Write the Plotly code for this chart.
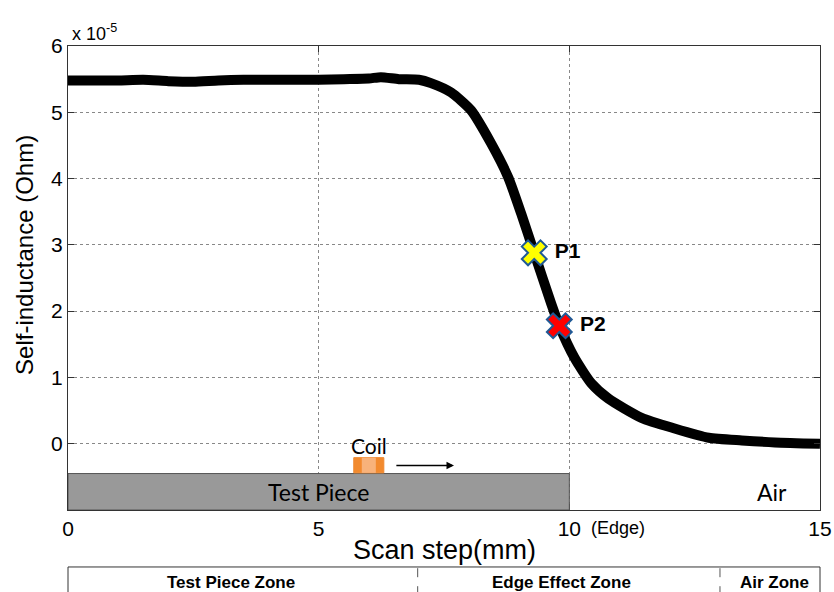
import plotly.graph_objects as go

# Scan step (mm) and self-inductance (x 1e-5 Ohm)
scan_x = [0, 0.5, 1, 1.5, 2, 2.5, 3, 3.5, 4, 4.5, 5, 5.5, 6, 6.24, 6.6, 7, 7.24, 7.64,
          8.04, 8.44, 8.78, 9.04, 9.3, 9.64, 9.8, 10.1, 10.44, 10.78, 11.44, 12.1,
          12.78, 13.44, 14.1, 15]
inductance = [5.48, 5.48, 5.48, 5.49, 5.47, 5.46, 5.48, 5.49, 5.49, 5.49, 5.49, 5.5,
              5.51, 5.53, 5.5, 5.49, 5.44, 5.30, 5.03, 4.53, 4.02, 3.47, 2.88, 2.11,
              1.78, 1.30, 0.91, 0.68, 0.39, 0.23, 0.09, 0.05, 0.02, 0.0]

p_names = ["P1", "P2"]
p_x = [9.3, 9.8]
p_y = [2.88, 1.78]
p_colors = ["#ffff00", "#ff0000"]

x_ticks = [0, 5, 10, 15]
x_ticktext = ["0", "5", "10", "15"]
y_ticks = [0, 1, 2, 3, 4, 5, 6]

zone_names = ["Test Piece Zone", "Edge Effect Zone", "Air Zone"]
zone_centers = [0.217, 0.656, 0.940]
zone_dividers = [0.465, 0.867]

fig = go.Figure()
fig.add_trace(go.Scatter(x=scan_x, y=inductance, mode="lines",
                         line=dict(color="black", width=10, shape="spline", smoothing=0.6),
                         hoverinfo="skip", showlegend=False))
for name, px, py, c in zip(p_names, p_x, p_y, p_colors):
    fig.add_trace(go.Scatter(x=[px], y=[py], mode="markers+text",
                             marker=dict(symbol="x", size=22, color=c,
                                         line=dict(color="#1f5a96", width=2)),
                             text=[" " + name], textposition="middle right",
                             textfont=dict(family="Liberation Sans, Arial", size=21,
                                           color="black", weight="bold"),
                             showlegend=False))

font_ax = "Liberation Sans, Arial, sans-serif"
font_cal = "Lato, Open Sans, sans-serif"

fig.update_layout(
    width=834, height=592, autosize=False,
    margin=dict(l=68, r=14, t=46, b=82),
    plot_bgcolor="white", paper_bgcolor="white",
    xaxis=dict(range=[0, 15], tickvals=x_ticks, ticktext=x_ticktext, automargin=False,
               showgrid=True, gridcolor="#888", griddash="dot", gridwidth=1,
               showline=True, linecolor="#333", linewidth=1, mirror="ticks",
               ticks="inside", ticklen=6, tickcolor="#333", zeroline=False,
               tickfont=dict(family=font_ax, size=21, color="black")),
    yaxis=dict(range=[-1, 6], tickvals=y_ticks, automargin=False,
               showgrid=True, gridcolor="#888", griddash="dot", gridwidth=1,
               showline=True, linecolor="#333", linewidth=1, mirror="ticks",
               ticks="inside", ticklen=6, tickcolor="#333", zeroline=False,
               tickfont=dict(family=font_ax, size=21, color="black")),
)

# Test piece block and labels
fig.add_shape(type="rect", x0=0, x1=10, y0=-1, y1=-0.45, xref="x", yref="y",
              fillcolor="#999999", line=dict(color="#555", width=1), layer="above")
fig.add_annotation(x=5, y=-0.73, text="Test Piece", showarrow=False, xanchor="center",
                   font=dict(family=font_cal, size=23, color="black"))
fig.add_annotation(x=14.05, y=-0.73, text="Air", showarrow=False, xanchor="center",
                   font=dict(family=font_cal, size=23, color="black"))
# Coil
fig.add_shape(type="rect", x0=5.7, x1=6.3, y0=-0.44, y1=-0.21, xref="x", yref="y",
              fillcolor="#f28a2e", line=dict(color="#f08a30", width=1), layer="above")
fig.add_shape(type="rect", x0=5.86, x1=6.14, y0=-0.44, y1=-0.21, xref="x", yref="y",
              fillcolor="#f8b27a", line=dict(width=0), layer="above")
fig.add_annotation(x=6.0, y=-0.03, text="Coil", showarrow=False, xanchor="center",
                   font=dict(family=font_cal, size=21, color="black"))
fig.add_annotation(x=7.7, y=-0.33, ax=6.52, ay=-0.33, axref="x", ayref="y",
                   xref="x", yref="y", text="", showarrow=True,
                   arrowhead=2, arrowsize=1, arrowwidth=1.5, arrowcolor="black")

# Axis titles and exponent
fig.add_annotation(x=0.5, y=-0.05, xref="paper", yref="paper", yanchor="top",
                   xanchor="center", text="Scan step(mm)", showarrow=False,
                   font=dict(family=font_ax, size=27, color="black"))
fig.add_annotation(x=-0.057, y=0.55, xref="paper", yref="paper", textangle=-90,
                   xanchor="center", yanchor="middle",
                   text="Self-inductance (Ohm)", showarrow=False,
                   font=dict(family=font_ax, size=24, color="black"))
fig.add_annotation(x=0.002, y=1.0, xref="paper", yref="paper", xanchor="left",
                   yanchor="bottom", text="x 10<sup>-5</sup>", showarrow=False,
                   font=dict(family=font_ax, size=18, color="black"))
fig.add_annotation(x=10.4, y=-0.014, xref="x", yref="paper", xanchor="left",
                   yanchor="top", text="(Edge)", showarrow=False,
                   font=dict(family=font_ax, size=18, color="black"))

# Zone table
fig.add_shape(type="rect", x0=0, x1=1, y0=-0.3, y1=-0.1228, xref="paper", yref="paper",
              line=dict(color="#333", width=1), fillcolor="rgba(0,0,0,0)")
for d in zone_dividers:
    fig.add_shape(type="line", x0=d, x1=d, y0=-0.3, y1=-0.1228, xref="paper",
                  yref="paper", line=dict(color="#555", width=1, dash="dash"))
for name, cx in zip(zone_names, zone_centers):
    fig.add_annotation(x=cx, y=-0.157, xref="paper", yref="paper", text=name,
                       showarrow=False, xanchor="center", yanchor="middle",
                       font=dict(family="Liberation Sans Narrow, Liberation Sans, Arial",
                                 size=17, color="black", weight="bold"))

fig.write_html("out.html", config={"displayModeBar": False},
               post_script="document.body.style.margin='0';")
